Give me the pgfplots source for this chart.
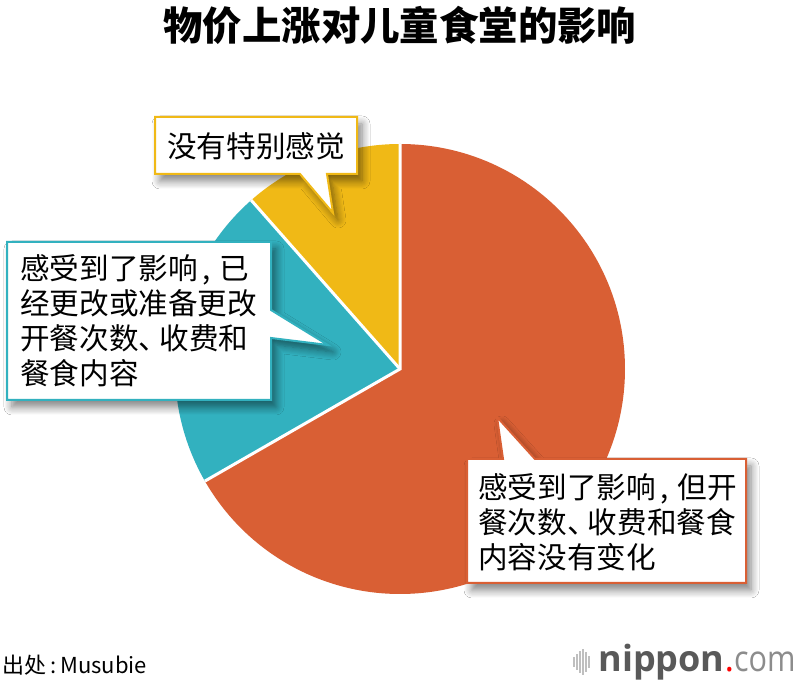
\documentclass[border=0pt]{standalone}
\usepackage{pgfplots}
\pgfplotsset{compat=1.18}
\usepackage{pgfplotstable}
\usepackage{fontspec}
\setmainfont{Noto Sans CJK SC}
\newfontfamily\logofont{Open Sans}
\usetikzlibrary{shadows.blur}

\definecolor{pieorange}{RGB}{217,95,52}
\definecolor{pieteal}{RGB}{50,177,191}
\definecolor{pieyellow}{RGB}{240,185,22}

\newcommand{\cm}{\hspace{0.15em},\hspace{0.3em}}
\newcommand{\dn}{、\hspace{-0.3em}}

% shares in percent, clockwise from 12 o'clock
\pgfplotstableread{
share
66.7
21.8
11.5
}\piedata

\begin{document}
\begin{tikzpicture}[x=0.5pt,y=0.5pt]
\useasboundingbox (0,0) rectangle (800,686);
\fill[white] (0,0) rectangle (800,686);

\pgfplotstablegetelem{0}{share}\of\piedata \let\sA\pgfplotsretval
\pgfplotstablegetelem{1}{share}\of\piedata \let\sB\pgfplotsretval
\pgfplotstablegetelem{2}{share}\of\piedata \let\sC\pgfplotsretval
\pgfmathsetmacro{\aO}{90}
\pgfmathsetmacro{\aA}{\aO-3.6*\sA}
\pgfmathsetmacro{\aB}{\aA-3.6*\sB}
\pgfmathsetmacro{\aC}{\aB-3.6*\sC}

\begin{axis}[
    at={(200pt,158.5pt)}, anchor=center,
    scale only axis, width=225pt, height=225pt,
    xmin=-1, xmax=1, ymin=-1, ymax=1,
    hide axis, clip=false,
]
\fill[pieorange] (axis cs:0,0) -- (axis cs:{cos(\aO)},{sin(\aO)})
    arc[start angle=\aO, end angle=\aA, radius=112.5pt] -- cycle;
\fill[pieteal] (axis cs:0,0) -- (axis cs:{cos(\aA)},{sin(\aA)})
    arc[start angle=\aA, end angle=\aB, radius=112.5pt] -- cycle;
\fill[pieyellow] (axis cs:0,0) -- (axis cs:{cos(\aB)},{sin(\aB)})
    arc[start angle=\aB, end angle=\aC, radius=112.5pt] -- cycle;
\draw[white, line width=1.5pt] (axis cs:{cos(\aO)},{sin(\aO)}) -- (axis cs:0,0)
    -- (axis cs:{cos(\aA)},{sin(\aA)});
\draw[white, line width=1.5pt] (axis cs:0,0) -- (axis cs:{cos(\aB)},{sin(\aB)});
\end{axis}

\tikzset{callout/.style={fill=white, line width=1pt, line join=miter,
    blur shadow={shadow xshift=2.5pt, shadow yshift=-3.5pt, shadow blur steps=8,
    shadow blur radius=4pt, shadow opacity=50}}}
\tikzset{ctext/.style={inner sep=0pt, align=left, font=\fontsize{14.8}{17.5}\selectfont}}

% yellow callout
\draw[callout, draw=pieyellow] (155,569) -- (357,569) -- (357,512) -- (327,512)
    -- (333,473) -- (300,512) -- (155,512) -- cycle;
\node[ctext, anchor=west] at (167,540) {没有特别感觉};

% teal callout
\draw[callout, draw=pieteal] (7,444) -- (271,444) -- (271,376) -- (328,341)
    -- (271,348) -- (271,286) -- (7,286) -- cycle;
\node[ctext, anchor=west] at (20,365.5) {感受到了影响\cm 已\\经更改或准备更改\\开餐次数\dn 收费和\\餐食内容};

% orange callout
\draw[callout, draw=pieorange] (467,227) -- (503,227) -- (497,269) -- (535,227)
    -- (746,227) -- (746,103) -- (467,103) -- cycle;
\node[ctext, anchor=west] at (478,164) {感受到了影响\cm 但开\\餐次数\dn 收费和餐食\\内容没有变化};

% title
\node[font=\fontsize{19.7}{24}\selectfont\bfseries] at (400,661) {物价上涨对儿童食堂的影响};

% source
\node[anchor=west, inner sep=0pt, font=\fontsize{11}{13}\selectfont] at (2,21) {出处\hspace{0.2em}:\hspace{0.15em}Musubie};

% logo
\foreach \x/\h in {574/10,577/16,580/22,583/26,586/20,589/12}
    \draw[black!25, line width=1pt] (\x,{24-\h/2}) -- (\x,{24+\h/2});
\node[anchor=base west, inner sep=0pt, font=\logofont\fontsize{18}{20}\selectfont]
    at (598,14) {\textcolor{black!65}{\bfseries nippon}\textcolor{red}{.}\textcolor{black!45}{\scalebox{0.85}[1]{com}}};
\end{tikzpicture}
\end{document}
